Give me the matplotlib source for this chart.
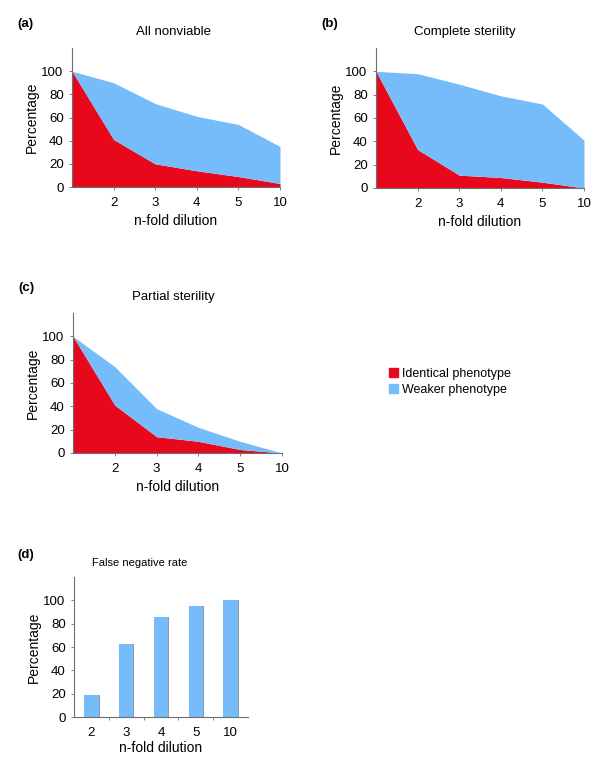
import numpy as np
import matplotlib
matplotlib.use('Agg')
import matplotlib.pyplot as plt
from matplotlib.patches import Patch

plt.rcParams['font.family'] = ['Liberation Sans', 'DejaVu Sans']

# dilution steps (first point = undiluted, no label)
dilution_labels = ['', '2', '3', '4', '5', '10']

# percentages of RNAi phenotype: identical / weaker (stacked)
nonviable_identical = [100, 41, 20, 14, 9, 3]
nonviable_weaker = [0, 49, 52, 47, 45, 32]

complete_identical = [100, 33, 11, 9, 5, 0]
complete_weaker = [0, 65, 78, 70, 67, 41]

partial_identical = [100, 41, 14, 10, 3, 0]
partial_weaker = [0, 33, 24, 12, 7, 0]

# false negative rate
fn_labels = ['2', '3', '4', '5', '10']
fn_rate = [19, 63, 86, 95, 100]

RED = '#e8081c'
BLUE = '#76bcfb'
AXC = '#6e6e6e'

fig = plt.figure(figsize=(6, 7.64), dpi=100)
W, H = 600, 764


def px_axes(l, t, r, b):
    return fig.add_axes([l / W, 1 - b / H, (r - l) / W, (b - t) / H])


def style(ax):
    for s in ['top', 'right']:
        ax.spines[s].set_visible(False)
    for s in ['left', 'bottom']:
        ax.spines[s].set_color(AXC)
        ax.spines[s].set_linewidth(0.8)
    ax.set_ylim(0, 120)
    ax.set_yticks([0, 20, 40, 60, 80, 100])
    ax.tick_params(axis='both', colors=AXC, labelcolor='black',
                   labelsize=9.5, length=2.5, width=0.6)
    ax.tick_params(axis='x', pad=5)
    ax.set_ylabel('Percentage', fontsize=10, labelpad=2)


def area_panel(box, identical, weaker, title, tag, title_x, tag_y):
    ax = px_axes(*box)
    x = np.arange(len(identical))
    ident = np.array(identical, dtype=float)
    total = ident + np.array(weaker, dtype=float)
    ax.fill_between(x, 0, ident, color=RED, lw=0)
    ax.fill_between(x, ident, total, color=BLUE, lw=0)
    ax.set_xlim(0, len(x) - 1)
    ax.set_xticks(x[1:])
    ax.set_xticklabels(dilution_labels[1:])
    style(ax)
    ax.set_xlabel('n-fold dilution', fontsize=10, labelpad=3)
    fig.text(title_x / W, 1 - (box[1] - 16) / H, title, ha='center',
             va='center', fontsize=9.5)
    fig.text((box[0] - 55) / W, 1 - tag_y / H, tag, fontsize=9.5,
             fontweight='bold', va='center')
    return ax


area_panel((72, 48, 280, 187), nonviable_identical, nonviable_weaker,
           'All nonviable', '(a)', 173, 24)
area_panel((376, 48, 584, 188), complete_identical, complete_weaker,
           'Complete sterility', '(b)', 465, 24)
area_panel((73, 313, 282, 453), partial_identical, partial_weaker,
           'Partial sterility', '(c)', 173, 288)

# legend
fig.legend(handles=[Patch(color=RED, label='Identical phenotype'),
                    Patch(color=BLUE, label='Weaker phenotype')],
           loc='center left', bbox_to_anchor=(384 / W, 1 - 382 / H),
           frameon=False, fontsize=9, handlelength=0.7, handleheight=0.7,
           handletextpad=0.3, labelspacing=0.35, borderaxespad=0)

# (d) bar chart
ax = px_axes(74, 577, 248, 717)
xb = np.arange(len(fn_rate))
ax.bar(xb + 0.03, fn_rate, width=0.41, color='#8a9aa8', lw=0)
ax.bar(xb, fn_rate, width=0.41, color=BLUE, lw=0)
ax.set_xlim(-0.5, len(fn_rate) - 0.5)
ax.set_xticks(xb)
ax.set_xticklabels(fn_labels)
ax.set_xticks(xb[:-1] + 0.5, minor=True)
style(ax)
ax.tick_params(axis='x', which='major', length=0, pad=7)
ax.tick_params(axis='x', which='minor', colors=AXC, length=2.5, width=0.6)
ax.set_xlabel('n-fold dilution', fontsize=10, labelpad=2)
fig.text(140 / W, 1 - 563 / H, 'False negative rate', ha='center',
         va='center', fontsize=8)
fig.text(17 / W, 1 - 555 / H, '(d)', fontsize=9.5, fontweight='bold',
         va='center')

fig.savefig('out.png', dpi=100, facecolor='white')
